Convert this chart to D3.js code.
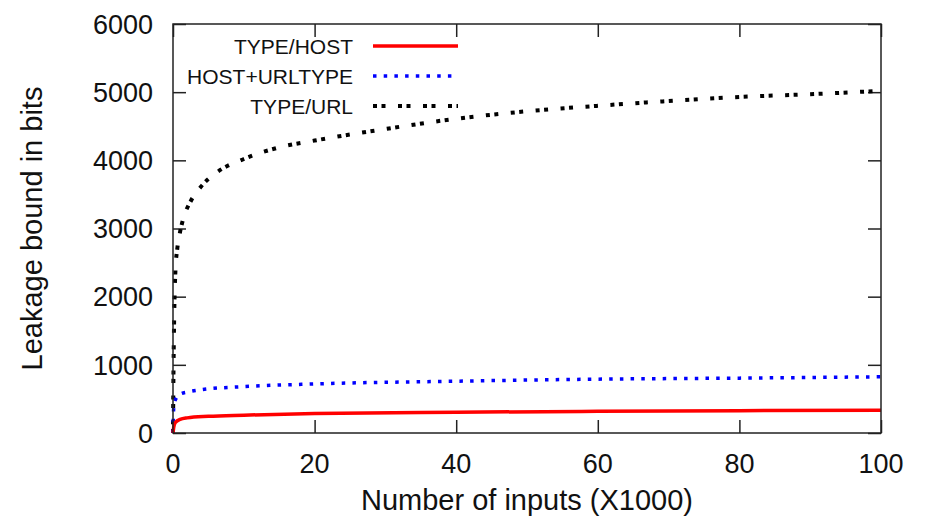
<!DOCTYPE html>
<html>
<head>
<meta charset="utf-8">
<script src="https://cdn.jsdelivr.net/npm/d3@7"></script>
<style>
  body { margin: 0; background: #fff; }
  text { font-family: "Liberation Sans", Arial, sans-serif; fill: #111; }
</style>
</head>
<body>
<svg id="chart" width="928" height="522"></svg>
<script>
// x values in thousands of inputs, y in bits
const hostX = [0, 0.1, 0.3, 1, 2, 5, 10, 20, 40, 60, 80, 100];
const hostY = [0, 80, 150, 200, 222, 245, 262, 285, 305, 318, 328, 335];

const urltypeX = [0, 0.05, 0.15, 0.5, 1, 2, 4, 10, 20, 40, 60, 80, 100];
const urltypeY = [0, 250, 420, 520, 570, 600, 635, 680, 720, 760, 790, 805, 825];

const urlX = [0, 0.05, 0.1, 0.2, 0.35, 0.6, 1, 1.5, 2.5, 4, 6, 10, 15, 20, 30, 40, 50, 60, 70, 80, 90, 100];
const urlY = [0, 700, 1200, 1900, 2400, 2700, 2950, 3160, 3400, 3620, 3810, 4020, 4190, 4290, 4460, 4610, 4720, 4800, 4870, 4930, 4970, 5020];

const xTicks = [0, 20, 40, 60, 80, 100];
const yTicks = [0, 1000, 2000, 3000, 4000, 5000, 6000];

const series = [
  { name: 'TYPE/HOST', xs: hostX, ys: hostY, color: '#ff0000', width: 3.5, dash: null },
  { name: 'HOST+URLTYPE', xs: urltypeX, ys: urltypeY, color: '#0000ff', width: 3.5, dash: '3.5,7.2' },
  { name: 'TYPE/URL', xs: urlX, ys: urlY, color: '#000000', width: 4, dash: '4,4.5,4,12.5' }
];

const margin = { top: 24, right: 47, bottom: 89, left: 173 };
const width = 928, height = 522;
const svg = d3.select('#chart');

const x = d3.scaleLinear().domain([0, 100]).range([margin.left, width - margin.right]);
const y = d3.scaleLinear().domain([0, 6000]).range([height - margin.bottom, margin.top]);

const tickLen = 13;

// inward ticks on all four sides
svg.append('g')
  .attr('transform', `translate(0,${y(0)})`)
  .call(d3.axisBottom(x).tickValues(xTicks).tickSize(-tickLen).tickFormat(''))
  .call(g => g.select('.domain').remove());
svg.append('g')
  .attr('transform', `translate(0,${y(6000)})`)
  .call(d3.axisTop(x).tickValues(xTicks).tickSize(-tickLen).tickFormat(''))
  .call(g => g.select('.domain').remove());
svg.append('g')
  .attr('transform', `translate(${x(0)},0)`)
  .call(d3.axisLeft(y).tickValues(yTicks).tickSize(-tickLen).tickFormat(''))
  .call(g => g.select('.domain').remove());
svg.append('g')
  .attr('transform', `translate(${x(100)},0)`)
  .call(d3.axisRight(y).tickValues(yTicks).tickSize(-tickLen).tickFormat(''))
  .call(g => g.select('.domain').remove());

svg.selectAll('.tick line').attr('stroke', '#222').attr('stroke-width', 1.5);

// tick labels
svg.append('g').selectAll('text')
  .data(xTicks)
  .join('text')
  .attr('x', d => x(d))
  .attr('y', y(0) + 40)
  .attr('text-anchor', 'middle')
  .style('font-size', '27px')
  .text(d => d);

svg.append('g').selectAll('text')
  .data(yTicks)
  .join('text')
  .attr('x', x(0) - 20)
  .attr('y', d => y(d))
  .attr('dy', '0.36em')
  .attr('text-anchor', 'end')
  .style('font-size', '27px')
  .text(d => d);

// axis titles
svg.append('text')
  .attr('x', (x(0) + x(100)) / 2)
  .attr('y', 510)
  .attr('text-anchor', 'middle')
  .style('font-size', '29px')
  .text('Number of inputs (X1000)');

svg.append('text')
  .attr('transform', `translate(42,${(y(0) + y(6000)) / 2}) rotate(-90)`)
  .attr('text-anchor', 'middle')
  .style('font-size', '29px')
  .text('Leakage bound in bits');

// curves
const line = d3.line()
  .x(d => x(d[0]))
  .y(d => y(d[1]))
  .curve(d3.curveMonotoneX);

const plot = svg.append('g');
series.slice().reverse().forEach(s => {
  plot.append('path')
    .datum(s.xs.map((v, i) => [v, s.ys[i]]))
    .attr('d', line)
    .attr('fill', 'none')
    .attr('stroke', s.color)
    .attr('stroke-width', s.width)
    .attr('stroke-dasharray', s.dash)
    .attr('stroke-linejoin', 'round');
});

// frame
svg.append('rect')
  .attr('x', x(0))
  .attr('y', y(6000))
  .attr('width', x(100) - x(0))
  .attr('height', y(0) - y(6000))
  .attr('fill', 'none')
  .attr('stroke', '#222')
  .attr('stroke-width', 1.5);

// legend
const legend = svg.append('g');
series.forEach((s, i) => {
  const ly = 46 + i * 30;
  legend.append('text')
    .attr('x', 353)
    .attr('y', ly)
    .attr('dy', '0.36em')
    .attr('text-anchor', 'end')
    .style('font-size', '21px')
    .text(s.name);
  legend.append('line')
    .attr('x1', 373)
    .attr('x2', 458)
    .attr('y1', ly)
    .attr('y2', ly)
    .attr('stroke', s.color)
    .attr('stroke-width', s.width)
    .attr('stroke-dasharray', s.dash);
});
</script>
</body>
</html>
